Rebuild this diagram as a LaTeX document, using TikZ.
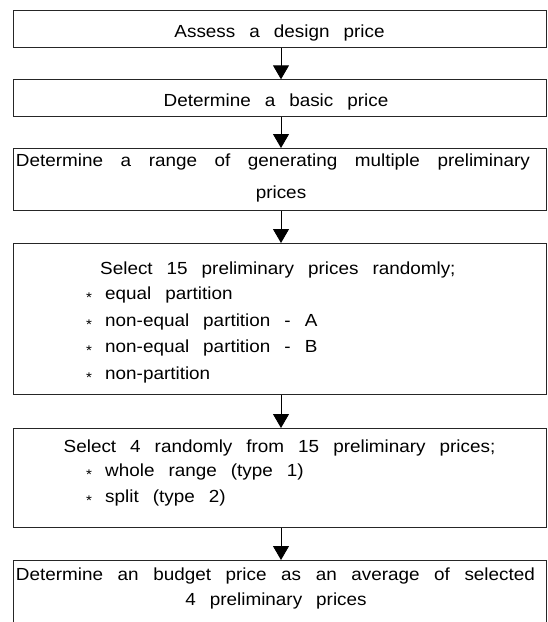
\documentclass[tikz,border=0pt]{standalone}
\usepackage{fontspec}
\setmainfont{Liberation Sans}[FakeStretch=1.08]
\usetikzlibrary{arrows.meta}
\newcommand{\bul}{\makebox[20pt][l]{\hspace{1pt}\raisebox{-3pt}{\fontsize{14}{14}\selectfont *}}}
\newcommand{\boxfont}{\fontsize{17.5}{26}\selectfont\spaceskip=14pt plus 14pt minus 4pt\relax}
\tikzset{
  box/.style={draw=black!85, line width=1pt, minimum width=533pt, inner sep=0pt, anchor=north west},
  txt/.style={anchor=base, inner sep=0pt, font=\boxfont},
  ltxt/.style={txt, anchor=base west},
  arr/.style={draw=black, line width=0.9pt, -{Triangle[length=14pt,width=16pt]}}
}
\begin{document}
\begin{tikzpicture}[x=1pt,y=-1pt]
\clip (0,0) rectangle (547,622);
\fill[white] (0,0) rectangle (547,622);
% boxes
\node[box, minimum height=37.8pt] (b1) at (13,9.5) {};
\node[box, minimum height=36.4pt] (b2) at (13,79.3) {};
\node[box, minimum height=62pt] (b3) at (13,148) {};
\node[box, minimum height=151pt] (b4) at (13,243) {};
\node[box, minimum height=99pt] (b5) at (13,428) {};
\node[box, minimum height=80pt] (b6) at (13,560) {};
% connectors
\draw[arr] ([xshift=1pt]b1.south) -- ([xshift=1pt]b2.north);
\draw[arr] ([xshift=1pt]b2.south) -- ([xshift=1pt]b3.north);
\draw[arr] ([xshift=1pt]b3.south) -- ([xshift=1pt]b4.north);
\draw[arr] ([xshift=1pt]b4.south) -- ([xshift=1pt]b5.north);
\draw[arr] ([xshift=1pt]b5.south) -- ([xshift=1pt]b6.north);
% texts
\node[txt] (t1) at (279.5,37) {Assess a design price};
\node[txt] (t2) at (276,106) {Determine a basic price};
\node[txt] (t3a) at (273,166.7) {\makebox[514pt][s]{Determine a range of generating multiple preliminary}};
\node[txt] (t3b) at (281,198) {prices};
\node[ltxt] (t4a) at (100,274.5) {Select 15 preliminary prices randomly;};
\node[ltxt] (t4b) at (85,299.5) {\bul equal partition};
\node[ltxt] (t4c) at (85,326) {\bul non-equal partition - A};
\node[ltxt] (t4d) at (85,352.5) {\bul non-equal partition - B};
\node[ltxt] (t4e) at (85,379) {\bul non-partition};
\node[ltxt] (t5a) at (63.5,452) {Select 4 randomly from 15 preliminary prices;};
\node[ltxt] (t5b) at (85,476) {\bul whole range (type 1)};
\node[ltxt] (t5c) at (85,502) {\bul split (type 2)};
\node[txt] (t6a) at (275.5,580) {\makebox[519pt][s]{Determine an budget price as an average of selected}};
\node[txt] (t6b) at (276,605) {4 preliminary prices};
\end{tikzpicture}
\end{document}
